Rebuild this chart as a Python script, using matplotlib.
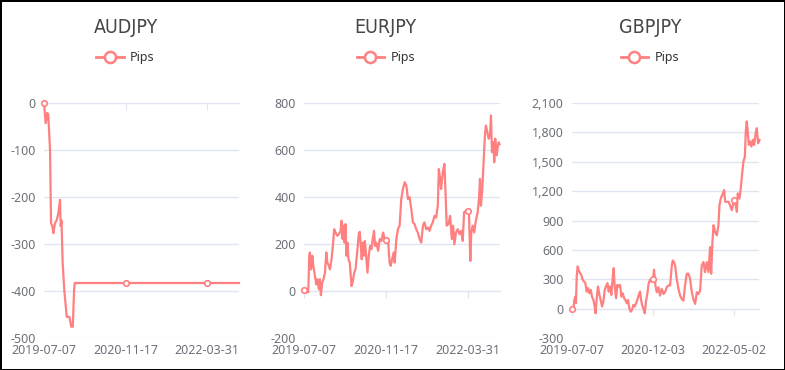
import matplotlib.pyplot as plt
import numpy as np
from matplotlib.lines import Line2D
from matplotlib.ticker import FuncFormatter

plt.rcParams['axes.unicode_minus'] = False

line_color = '#ff8080'
grid_color = '#e0e6f1'
label_color = '#6e7079'
title_color = '#464646'

# AUDJPY (x = category index of the daily series)
aud_idx = [0, 10, 20, 26, 31, 37, 43, 51, 57, 67, 78, 88, 98, 102, 107, 114, 124,
           139, 155, 167, 176, 184, 188, 499, 998, 1192]
aud_pips = [0, -43, -21, -25, -60, -100, -256, -262, -277, -256, -249, -234, -206, -262, -250, -340, -398,
            -455, -455, -476, -476, -398, -383, -383, -383, -383]
aud_label_idx = [0, 499, 998]
aud_labels = ['2019-07-07', '2020-11-17', '2022-03-31']

# EURJPY
eur_idx = [0, 12, 26, 32, 36, 43, 51, 57, 67, 75, 81, 91, 97, 103, 111, 119, 128, 136, 142, 152,
           158, 168, 176, 184, 192, 203, 213, 223, 229, 235, 241, 247, 253, 259, 265, 271, 279, 290,
           298, 306, 314, 324, 334, 340, 346, 352, 358, 365, 371, 379, 387, 395, 403, 411, 419, 427,
           433, 441, 452, 462, 472, 482, 492, 499, 512, 522, 529, 537, 547,
           553, 563, 573, 583, 593, 603, 614, 624, 634, 644, 654, 664, 674, 684, 694, 705, 715, 725,
           734, 745, 755, 765, 775, 785, 796, 806, 816, 822, 830, 836, 846, 856, 862, 870, 881, 891,
           901, 909, 917, 927, 937, 948, 958, 968, 976, 988, 998, 1006, 1014, 1020, 1028, 1038, 1046,
           1059, 1067, 1073, 1079, 1087, 1095, 1103, 1109, 1118, 1126, 1134, 1140, 1146, 1154, 1160,
           1166, 1174, 1180, 1187, 1192]
eur_pips = [4, -5, -5, 150, 164, 92, 150, 107, 64, 28, 50, 7, 50, -18, 36, 50, 78, 164, 121, 107,
            92, 135, 192, 263, 249, 235, 242, 256, 299, 221, 278, 206, 285, 150, 206, 135, 121, 21,
            43, 78, 92, 164, 242, 252, 192, 135, 206, 150, 213, 150, 78, 150, 192, 178, 221, 256,
            192, 206, 171, 221, 213, 249, 221, 218, 221, 121, 107, 135, 164,
            121, 221, 263, 278, 391, 434, 463, 449, 391, 399, 349, 292, 285, 263, 249, 221, 206, 278,
            292, 263, 270, 256, 278, 292, 320, 313, 363, 519, 477, 434, 505, 541, 434, 278, 285, 320,
            221, 278, 199, 249, 263, 242, 256, 213, 335, 342, 342, 327, 128, 249, 278, 249, 292,
            335, 391, 477, 363, 434, 548, 662, 704, 676, 648, 662, 747, 591, 633, 548,
            648, 577, 605, 633, 625]
eur_label_idx = [0, 499, 998]
eur_labels = ['2019-07-07', '2020-11-17', '2022-03-31']

# GBPJPY
gbp_idx = [0, 8, 15, 21, 25, 30, 36, 42, 51, 59, 68, 76, 85, 93, 102, 110, 119, 127, 136, 144,
           150, 157, 165, 174, 182, 191, 199, 208, 216, 225, 233, 242, 250, 259, 265, 271, 280, 288,
           297, 305, 314, 322, 331, 339, 348, 356, 364, 373, 381, 390, 398, 407, 415, 424, 432, 439,
           445, 453, 462, 470, 479, 487, 496, 504, 515, 521,
           530, 538, 549, 559, 570, 581, 591, 602, 612, 623, 634, 640, 648, 655, 665, 676, 687, 697,
           708, 718, 729, 740, 750, 761, 771, 782, 793, 803, 814, 824, 835, 845, 856, 867, 877, 884,
           892, 899, 909, 920, 930, 937, 945, 958, 966, 973, 983, 994, 1004, 1015, 1030, 1036, 1047,
           1053, 1064, 1072, 1081, 1089, 1098, 1104, 1110, 1116, 1123, 1131, 1140, 1148, 1157, 1165,
           1174, 1182, 1191]
gbp_pips = [0, -14, 89, 123, 55, 328, 431, 397, 362, 345, 294, 277, 260, 174, 209, 157, 192, 123, 89, 21,
            -48, 106, 226, 140, 89, 21, 72, 192, 226, 260, 174, 226, 140, 328, 414, 226, 106, 243,
            226, 243, 123, 157, 106, 89, 55, 89, 3, -31, -14, 38, 21, 55, 89, 140, 174, 89,
            38, 3, -48, 72, 157, 260, 294, 277, 300, 397,
            236, 168, 219, 133, 202, 150, 168, 219, 236, 236, 441, 492, 475, 441, 304, 202, 133, 99,
            82, 236, 356, 356, 304, 168, 99, 48, 168, 150, 185, 441, 475, 373, 475, 373, 629, 356,
            681, 852, 783, 749, 852, 1057, 1125, 1176, 1211, 1091, 1091, 1091, 1057, 1005, 1110, 1091, 988,
            1176, 1125, 1228, 1382, 1501, 1553, 1809, 1912, 1809, 1672, 1707, 1655, 1724, 1672, 1775,
            1843, 1689, 1724]
gbp_label_idx = [0, 515, 1030]
gbp_labels = ['2019-07-07', '2020-12-03', '2022-05-02']

W, H = 785, 370


def draw(fig, box, title, idx, pips, label_idx, labels, ymin, ymax, ystep, xmax):
    left, right, top, bottom = box
    ax = fig.add_axes([left / W, 1 - bottom / H, (right - left) / W, (bottom - top) / H])

    marks = [i for i, x in enumerate(idx) if x in label_idx]
    ax.plot(idx, pips, color=line_color, lw=1.6, marker='o', markevery=marks,
            ms=4, mfc='white', mec=line_color, mew=1.2, zorder=3, clip_on=False)

    ax.set_xlim(0, xmax)
    ax.set_ylim(ymin, ymax)
    ax.set_yticks(np.arange(ymin, ymax + 1, ystep))
    ax.yaxis.set_major_formatter(FuncFormatter(lambda v, p: f'{v:,.0f}'))
    ax.set_xticks(label_idx, labels)
    ax.tick_params(length=0, colors=label_color, labelsize=9)
    ax.tick_params(axis='y', pad=6)
    ax.tick_params(axis='x', pad=4)
    for lab in ax.get_xticklabels() + ax.get_yticklabels():
        lab.set_fontfamily('Noto Sans')
    ax.grid(axis='y', color=grid_color, lw=1)
    ax.set_axisbelow(True)
    for s in ax.spines.values():
        s.set_visible(False)

    # category axis line sits on the zero value
    frac = (0 - ymin) / (ymax - ymin)
    sec = ax.secondary_xaxis(frac)
    sec.set_xticks(label_idx)
    sec.tick_params(labelbottom=False, labeltop=False, length=5, color=grid_color,
                    direction='in' if frac >= 0.5 else 'out')
    for s in sec.spines.values():
        s.set_color(grid_color)

    cx = (left + right) / 2 - 16
    fig.text(cx / W, 1 - 27.5 / H, title, ha='center', va='center', fontsize=14,
             color=title_color, family='DejaVu Sans', fontstretch='condensed')
    handle = Line2D([], [], color=line_color, lw=2, marker='o', ms=8, mfc='white', mew=1.8)
    ax.legend([handle], ['Pips'], loc='center', bbox_to_anchor=(cx / W, 1 - 58 / H),
              bbox_transform=fig.transFigure, frameon=False, handlelength=2.2,
              handletextpad=0.5, prop={'family': 'Noto Sans', 'size': 9},
              labelcolor='#333333')


fig = plt.figure(figsize=(W / 100, H / 100), dpi=100, edgecolor='black', linewidth=2)

draw(fig, (44, 239, 103, 338), 'AUDJPY', aud_idx, aud_pips, aud_label_idx, aud_labels,
     -500, 0, 100, 1192)
draw(fig, (304, 499.5, 103, 338), 'EURJPY', eur_idx, eur_pips, eur_label_idx, eur_labels,
     -200, 800, 200, 1192)
draw(fig, (572, 759.5, 103, 338), 'GBPJPY', gbp_idx, gbp_pips, gbp_label_idx, gbp_labels,
     -300, 2100, 300, 1191)

fig.savefig('out.png', dpi=100)
